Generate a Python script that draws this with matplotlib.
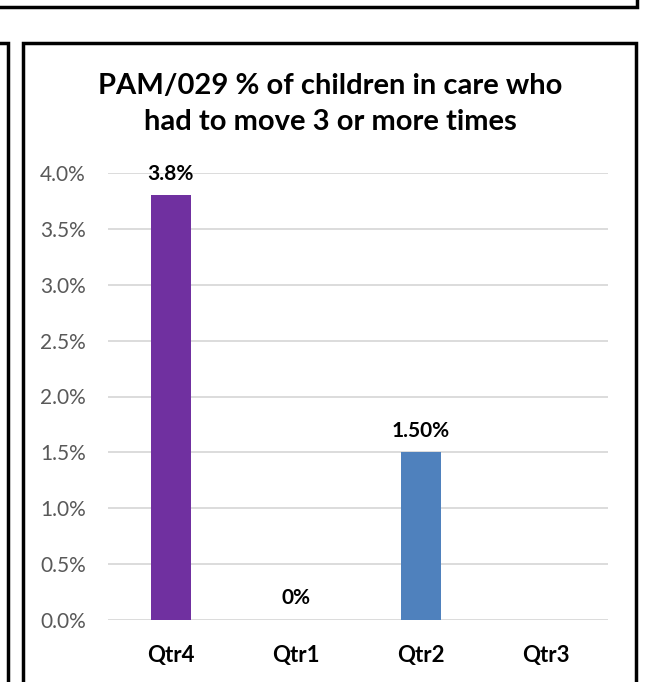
import matplotlib.pyplot as plt
from matplotlib.patches import Rectangle

# quarterly values, as fractions (None = no data yet)
quarters = ["Qtr4", "Qtr1", "Qtr2", "Qtr3"]
values = [0.038, 0.0, 0.015, None]
labels = ["3.8%", "0%", "1.50%", None]
colors = ["#7030A0", "#4F81BD", "#4F81BD", "#4F81BD"]
yticks = [0.0, 0.005, 0.010, 0.015, 0.020, 0.025, 0.030, 0.035, 0.040]

plt.rcParams['font.family'] = ['Lato', 'DejaVu Sans']

W, H = 649, 682
fig = plt.figure(figsize=(W / 100, H / 100), dpi=100)

def px(x, y):
    return x / W, 1 - y / H

# panel frames
frame = dict(fill=False, edgecolor="black", linewidth=2.5, transform=fig.transFigure)
x0, y0 = px(-10, 7)
fig.patches.append(Rectangle((x0, y0), (637 + 10) / W, 40 / H, **frame))
x0, y0 = px(-20, 700)
fig.patches.append(Rectangle((x0, y0), 28 / W, (700 - 43) / H, **frame))
x0, y0 = px(23, 700)
fig.patches.append(Rectangle((x0, y0), (636 - 23) / W, (700 - 43) / H, **frame))

ax = fig.add_axes([108 / W, 1 - 620 / H, 500 / W, (620 - 173) / H])
xs = range(len(quarters))
for i, (v, c) in enumerate(zip(values, colors)):
    if v is None:
        continue
    ax.bar(i, v, width=0.32, color=c, zorder=3)
    ax.annotate(labels[i], (i, v), xytext=(0, 8.5), textcoords="offset points",
                ha="center", va="bottom", fontsize=15, fontweight="bold")

ax.set_xlim(-0.5, 3.5)
ax.set_ylim(0, 0.04)
ax.set_yticks(yticks)
ax.set_yticklabels([f"{t * 100:.1f}%" for t in yticks])
ax.set_xticks(list(xs))
ax.set_xticklabels(quarters, fontsize=16, fontweight="bold")
ax.tick_params(axis="y", length=0, pad=16, labelsize=15, labelcolor="#595959")
ax.tick_params(axis="x", length=0, pad=18)
ax.grid(axis="y", color="#D9D9D9", linewidth=1.3, zorder=0)
ax.set_axisbelow(True)
for s in ax.spines.values():
    s.set_visible(False)

fig.text(330 / W, 1 - 104 / H, "PAM/029 % of children in care who\nhad to move 3 or more times",
         ha="center", va="center", fontsize=21, fontweight="bold", linespacing=1.5)

fig.savefig("out.png", dpi=100)
